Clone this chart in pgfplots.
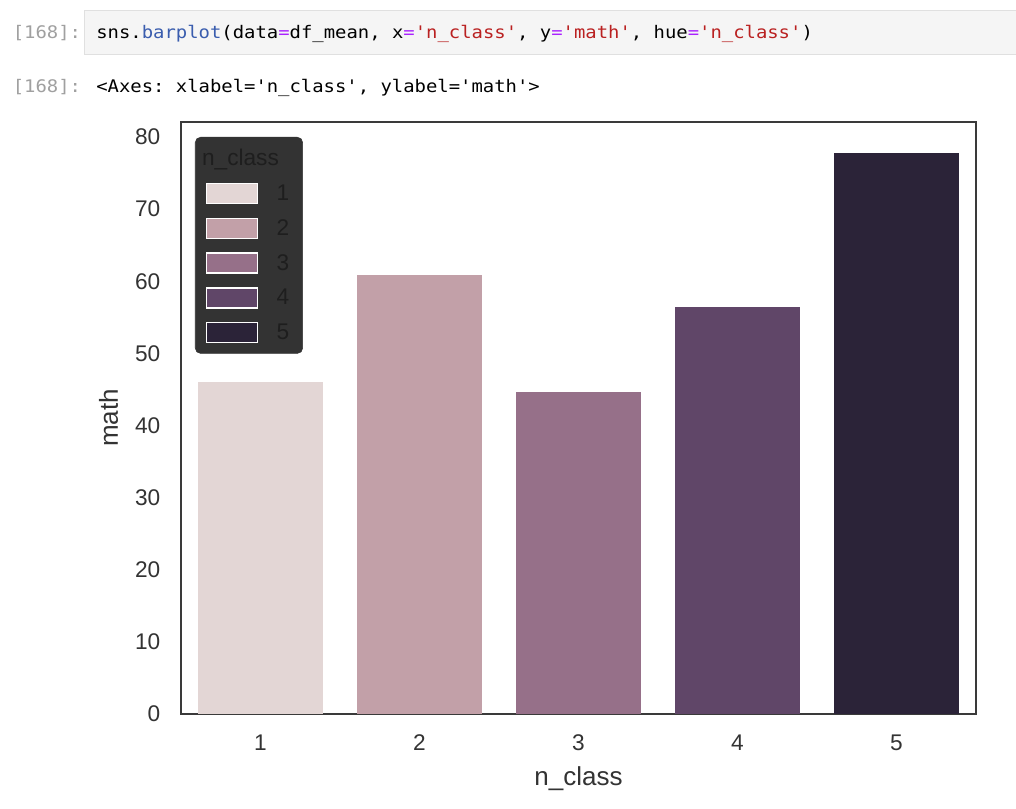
\documentclass[border=0pt]{standalone}
\usepackage{fontspec}
\setmainfont{Liberation Sans}
\setmonofont[FakeStretch=1.09]{DejaVu Sans Mono}
\usepackage{pgfplots}
\pgfplotsset{compat=1.18}

\definecolor{cA}{HTML}{E3D6D5}
\definecolor{cB}{HTML}{C2A0A8}
\definecolor{cC}{HTML}{967089}
\definecolor{cD}{HTML}{604668}
\definecolor{cE}{HTML}{2B2338}
\definecolor{frame}{HTML}{3A3A3A}
\definecolor{legbg}{HTML}{333333}
\definecolor{legtext}{HTML}{1E1E1E}
\definecolor{txt}{HTML}{333333}
\definecolor{cellbg}{HTML}{F5F5F5}
\definecolor{cellbd}{HTML}{E0E0E0}
\definecolor{prompt}{HTML}{A0A0A0}
\definecolor{kwblue}{HTML}{3A5DAE}
\definecolor{oppurple}{HTML}{AA22FF}
\definecolor{strred}{HTML}{BA2121}

\newcommand{\op}[1]{\textcolor{oppurple}{#1}}
\newcommand{\str}[1]{\textcolor{strred}{#1}}

\begin{document}
\begin{tikzpicture}
% page: 1016 x 808 px, 1 px = 0.75 pt
\path[use as bounding box, fill=white] (0,0) rectangle (762pt,606pt);

% notebook cell
\draw[cellbd, fill=cellbg] (63pt,565.5pt) rectangle (770pt,598.5pt);
\node[anchor=base east, inner sep=0pt, text=prompt, font=\ttfamily\fontsize{13}{15}\selectfont]
  at (61pt,576.75pt) {[168]:};
\node[anchor=base west, inner sep=0pt, font=\ttfamily\fontsize{13}{15}\selectfont]
  at (72pt,576.75pt) {sns.\textcolor{kwblue}{barplot}(data\op{=}df\_mean, x\op{=}\str{'n\_class'}, y\op{=}\str{'math'}, hue\op{=}\str{'n\_class'})};
\node[anchor=base east, inner sep=0pt, text=prompt, font=\ttfamily\fontsize{13}{15}\selectfont]
  at (61pt,536.25pt) {[168]:};
\node[anchor=base west, inner sep=0pt, font=\ttfamily\fontsize{13}{15}\selectfont]
  at (72pt,536.25pt) {<Axes: xlabel='n\_class', ylabel='math'>};

\begin{axis}[
    at={(135.75pt,70.5pt)}, anchor=south west,
    scale only axis,
    width=596.25pt, height=444pt,
    xmin=-0.5, xmax=4.5,
    ymin=0, ymax=82.08,
    enlargelimits=false,
    xtick={0,1,2,3,4},
    xticklabels={1,2,3,4,5},
    ytick={0,10,...,80},
    major tick length=0pt,
    axis line style={line width=1.7pt, frame},
    /pgf/number format/assume math mode=true,
    tick label style={font=\fontsize{17}{20}\selectfont, text=txt},
    yticklabel style={xshift=-12pt},
    xticklabel style={yshift=-12pt},
    xlabel={n\_class},
    ylabel={math},
    label style={font=\fontsize{19.5}{23}\selectfont, text=txt},
    xlabel style={at={(axis description cs:0.5,-0.110)}, anchor=center},
    ylabel style={at={(axis description cs:-0.091,0.5)}, anchor=center},
    ybar,
    bar width=0.78,
    legend image code/.code={
        \draw[#1, sharp corners, draw=white, line width=1.1pt] (0pt,-7.5pt) rectangle (38pt,7.5pt);
    },
    legend style={
        at={(0.0176,0.9747)}, anchor=north west,
        fill=legbg, draw=legbg, rounded corners=4pt,
        text=legtext,
        font=\fontsize{17}{20}\selectfont,
        row sep=8.8pt, column sep=12pt,
        inner xsep=8pt, inner ysep=7pt,
        cells={anchor=west},
    },
]
\addlegendimage{empty legend}
\addlegendentry{\hspace*{-56pt}n\_class}
\addplot[fill=cA, draw=none, bar shift=0pt] coordinates {(0,46.0)};
\addlegendentry{1}
\addplot[fill=cB, draw=none, bar shift=0pt] coordinates {(1,60.9)};
\addlegendentry{2}
\addplot[fill=cC, draw=none, bar shift=0pt] coordinates {(2,44.6)};
\addlegendentry{3}
\addplot[fill=cD, draw=none, bar shift=0pt] coordinates {(3,56.4)};
\addlegendentry{4}
\addplot[fill=cE, draw=none, bar shift=0pt] coordinates {(4,77.8)};
\addlegendentry{5}
\end{axis}
\end{tikzpicture}
\end{document}
